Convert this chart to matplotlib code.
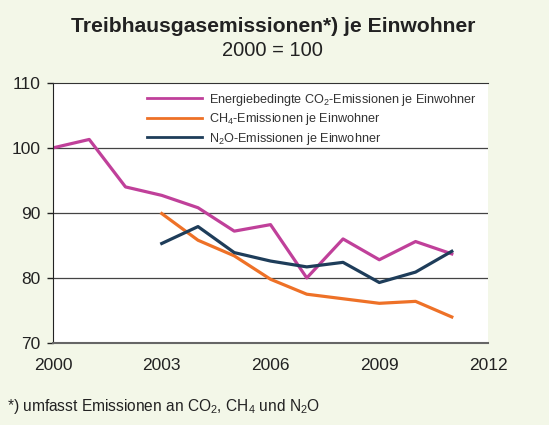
import numpy as np
import matplotlib
matplotlib.use("Agg")
import matplotlib.pyplot as plt

plt.rcParams['font.family'] = ['Liberation Sans', 'DejaVu Sans']
plt.rcParams['mathtext.fontset'] = 'custom'
plt.rcParams['mathtext.rm'] = 'Liberation Sans'

# values, 2000 = 100
jahre_co2 = [2000, 2001, 2002, 2003, 2004, 2005, 2006, 2007, 2008, 2009, 2010, 2011]
co2 = [100.0, 101.3, 94.0, 92.7, 90.8, 87.2, 88.2, 80.0, 86.0, 82.8, 85.6, 83.7]

jahre_ch4 = [2003, 2004, 2005, 2006, 2007, 2008, 2009, 2010, 2011]
ch4 = [89.9, 85.8, 83.4, 79.8, 77.5, 76.8, 76.1, 76.4, 74.0]

jahre_n2o = [2003, 2004, 2005, 2006, 2007, 2008, 2009, 2010, 2011]
n2o = [85.3, 87.9, 83.9, 82.6, 81.7, 82.4, 79.3, 80.9, 84.1]

labels = [r'Energiebedingte CO$\mathregular{_2}$-Emissionen je Einwohner',
          r'CH$\mathregular{_4}$-Emissionen je Einwohner',
          r'N$\mathregular{_2}$O-Emissionen je Einwohner']
xticks = [2000, 2003, 2006, 2009, 2012]
yticks = [70, 80, 90, 100, 110]

bg = '#F3F7E8'
fig = plt.figure(figsize=(5.49, 4.25), dpi=100, facecolor=bg)
ax = fig.add_axes([0.0965, 0.193, 0.7925, 0.612])
ax.set_facecolor('white')

ax.plot(jahre_co2, co2, color='#C0409A', lw=2.3, label=labels[0])
ax.plot(jahre_ch4, ch4, color='#EE7127', lw=2.3, label=labels[1])
ax.plot(jahre_n2o, n2o, color='#1E3D5A', lw=2.3, label=labels[2])

ax.set_xlim(2000, 2012)
ax.set_ylim(70, 110)
ax.set_xticks(xticks)
ax.set_yticks(yticks)
ax.tick_params(axis='x', length=0, pad=11, labelsize=12.5, colors='#222222')
ax.tick_params(axis='y', length=4, width=1, pad=5, labelsize=12.5, colors='#222222')
for y in [80, 90, 100]:
    ax.axhline(y, color='#444444', lw=0.9, zorder=1)
ax.spines['right'].set_visible(False)
ax.spines['top'].set_color('#333333')
ax.spines['left'].set_color('#222222')
ax.spines['bottom'].set_color('#666666')
ax.spines['bottom'].set_linewidth(1.5)

leg = ax.legend(loc='upper left', bbox_to_anchor=(0.205, 0.985), frameon=False,
                fontsize=9.1, handlelength=4.3, handletextpad=0.55, labelspacing=0.28,
                borderaxespad=0)
for h in leg.get_lines():
    h.set_linewidth(2.0)
for t in leg.get_texts():
    t.set_color('#333333')

fig.text(0.497, 0.925, 'Treibhausgasemissionen*) je Einwohner', ha='center',
         fontsize=15.2, fontweight='bold', color='#222222')
fig.text(0.497, 0.868, '2000 = 100', ha='center', fontsize=14.5, color='#222222')
fig.text(0.013, 0.032, r'*) umfasst Emissionen an CO$\mathregular{_2}$, CH$\mathregular{_4}$ und N$\mathregular{_2}$O',
         fontsize=11.2, color='#222222')

fig.savefig('out.png', dpi=100, facecolor=bg)
